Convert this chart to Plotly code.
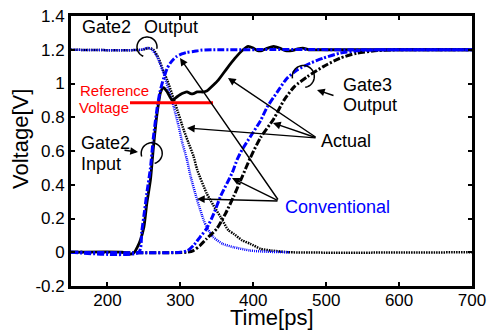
import math
import plotly.graph_objects as go

# ---------------- data ----------------
# Gate2 input, actual (black solid)
t_in_act = [150, 220, 228, 233, 237, 241, 245, 250, 254, 259, 263, 268, 273, 277, 282, 289, 295, 300,
            305, 309, 314, 318, 323, 327, 332, 336, 345, 352, 364, 375, 386, 393, 400, 406, 412, 420,
            428, 436, 444, 453, 461, 468, 476, 490, 700]
v_in_act = [0, 0, -0.01, -0.01, 0.0, 0.03, 0.07, 0.15, 0.29, 0.43, 0.62, 0.82, 0.95, 0.975, 0.95, 0.90,
            0.92, 0.935, 0.945, 0.95, 0.94, 0.94, 0.95, 0.95, 0.95, 0.955, 0.99, 1.02, 1.09, 1.15, 1.20,
            1.22, 1.21, 1.195, 1.195, 1.21, 1.22, 1.21, 1.195, 1.195, 1.205, 1.21, 1.20, 1.20, 1.20]

# Gate2 input, conventional (blue dash-dot)
t_in_conv = [150, 243, 247, 251, 254, 259, 263, 268, 272, 277, 282, 286, 291, 295, 302, 309, 318, 330, 345, 700]
v_in_conv = [0, 0, 0.12, 0.25, 0.35, 0.50, 0.68, 0.85, 0.95, 1.03, 1.09, 1.12, 1.145, 1.16, 1.175, 1.185,
             1.19, 1.198, 1.2, 1.2]

# Gate2 output, conventional (blue dotted)
t_out2_conv = [150, 246, 254, 260, 268, 277, 284, 291, 298, 302, 309, 314, 323, 332, 336, 345, 358, 373,
               396, 420, 450]
v_out2_conv = [1.2, 1.2, 1.21, 1.205, 1.16, 1.06, 0.96, 0.86, 0.74, 0.66, 0.55, 0.45, 0.31, 0.19, 0.15,
               0.09, 0.05, 0.03, 0.01, 0.003, 0]

# Gate2 output, actual (black dotted)
t_out2_act = [150, 248, 256, 263, 270, 277, 282, 293, 305, 311, 318, 323, 336, 345, 355, 366, 373, 385,
              396, 410, 425, 450, 700]
v_out2_act = [1.2, 1.2, 1.21, 1.2, 1.15, 1.07, 1.02, 0.88, 0.72, 0.65, 0.57, 0.49, 0.35, 0.28, 0.21, 0.13,
              0.11, 0.07, 0.05, 0.02, 0.01, 0, 0]

# Gate3 output, conventional (blue dash-dot)
t_out3_conv = [150, 300, 310, 318, 327, 336, 346, 355, 371, 378, 385, 396, 410, 419, 433, 446, 460, 478,
               496, 519, 545, 580, 700]
v_out3_conv = [0, 0, 0.01, 0.04, 0.09, 0.14, 0.23, 0.33, 0.47, 0.55, 0.61, 0.685, 0.78, 0.86, 0.95, 1.03,
               1.08, 1.12, 1.15, 1.18, 1.195, 1.2, 1.2]

# Gate3 output, actual (black dash-dot)
t_out3_act = [150, 309, 318, 327, 336, 350, 362, 373, 385, 396, 410, 428, 442, 456, 474, 496, 519, 542,
              570, 600, 700]
v_out3_act = [0, 0, 0.01, 0.04, 0.08, 0.14, 0.23, 0.33, 0.45, 0.56, 0.68, 0.79, 0.90, 0.98, 1.04, 1.10,
              1.15, 1.18, 1.195, 1.2, 1.2]

ref_voltage = 0.886

x_ticks = [200, 300, 400, 500, 600, 700]
x_tick_text = ["200", "300", "400", "500", "600", "700"]
y_ticks = [-0.2, 0, 0.2, 0.4, 0.6, 0.8, 1.0, 1.2, 1.4]
y_tick_text = ["-0.2", "0", "0.2", "0.4", "0.6", "0.8", "1", "1.2", "1.4"]

# ---------------- layout geometry ----------------
W, H = 487, 330
L, R, T, B = 71, 15, 16, 44
X0, X1 = 150, 700
Y0, Y1 = -0.2, 1.4
FONT = "Liberation Sans, Arial, Helvetica, sans-serif"


def px_x(px):
    return X0 + (px - L) / (W - L - R) * (X1 - X0)


def px_y(py):
    return Y1 - (py - T) / (H - T - B) * (Y1 - Y0)


def arc_path(cx, cy, r, a0, a1, n=40):
    pts = []
    for i in range(n + 1):
        a = math.radians(a0 + (a1 - a0) * i / n)
        pts.append((px_x(cx + r * math.cos(a)), px_y(cy - r * math.sin(a))))
    return "M" + " L".join(f"{x:.3f},{y:.5f}" for x, y in pts)


fig = go.Figure()

DASHDOT = "7px,2px,2px,2px"
DOT_BLACK = "1.5px,1px"
DOT_BLUE = "1px,1px"

fig.add_trace(go.Scatter(x=t_out2_act, y=v_out2_act, mode="lines", line=dict(color="black", width=2.5, dash=DOT_BLACK, shape="spline", smoothing=0.6)))
fig.add_trace(go.Scatter(x=t_out2_conv, y=v_out2_conv, mode="lines", line=dict(color="blue", width=2.5, dash=DOT_BLUE, shape="spline", smoothing=0.6)))
fig.add_trace(go.Scatter(x=t_in_act, y=v_in_act, mode="lines", line=dict(color="black", width=2.8, shape="spline", smoothing=0.6)))
fig.add_trace(go.Scatter(x=t_out3_act, y=v_out3_act, mode="lines", line=dict(color="black", width=3, dash=DASHDOT, shape="spline", smoothing=0.6)))
fig.add_trace(go.Scatter(x=t_out3_conv, y=v_out3_conv, mode="lines", line=dict(color="blue", width=3, dash=DASHDOT, shape="spline", smoothing=0.6)))
fig.add_trace(go.Scatter(x=t_in_conv, y=v_in_conv, mode="lines", line=dict(color="blue", width=3, dash=DASHDOT, shape="spline", smoothing=0.6)))

shapes = [
    dict(type="line", xref="x", yref="y", x0=px_x(130), x1=px_x(213), y0=ref_voltage, y1=ref_voltage,
         line=dict(color="red", width=3)),
    dict(type="path", xref="x", yref="y", path=arc_path(147, 47, 10, 248, -10), line=dict(color="black", width=1.5)),
    dict(type="path", xref="x", yref="y", path=arc_path(151.7, 153.3, 10.5, 198, -74), line=dict(color="black", width=1.5)),
    dict(type="path", xref="x", yref="y", path=arc_path(303.3, 76.5, 11, 190, -80), line=dict(color="black", width=1.5)),
]

annotations = []


def label(text, cx, cy, color="black", size=18):
    annotations.append(dict(text=text, x=px_x(cx), y=px_y(cy), xref="x", yref="y", showarrow=False,
                            xanchor="center", yanchor="middle", font=dict(family=FONT, size=size, color=color)))


def arrow(tail, tip):
    annotations.append(dict(text="", x=px_x(tip[0]), y=px_y(tip[1]), ax=px_x(tail[0]), ay=px_y(tail[1]),
                            xref="x", yref="y", axref="x", ayref="y", showarrow=True, arrowhead=2,
                            arrowsize=1.1, arrowwidth=1.4, arrowcolor="black", standoff=0, startstandoff=0))


label("Gate2", 106, 27)
label("Output", 171, 27)
label("Reference", 114.5, 90, color="red", size=15)
label("Voltage", 104, 107, color="red", size=15)
label("Gate2", 105, 142.5)
label("Input", 100.5, 164)
label("Gate3", 367.5, 84.5)
label("Output", 370, 105)
label("Actual", 346, 141)
label("Conventional", 337.5, 207, color="blue")

act = (317, 138)
for tip in [(228, 78), (273, 123), (187, 128)]:
    arrow(act, tip)
conv = (279, 201)
for tip in [(180, 58), (232, 178), (197, 199)]:
    arrow(conv, tip)
arrow((335, 96), (317, 90))
arrow((123, 150), (138, 152))

# axis titles
annotations.append(dict(text="Time[ps]", xref="paper", yref="paper", x=0.5, y=0, yshift=-(317 - (H - B)),
                        xanchor="center", yanchor="middle", showarrow=False,
                        font=dict(family=FONT, size=22, color="black")))
annotations.append(dict(text="Voltage[V]", xref="paper", yref="paper", x=0, xshift=20 - L,
                        y=(H - B - 139) / (H - T - B), xanchor="center", yanchor="middle", textangle=-90,
                        showarrow=False, font=dict(family=FONT, size=22, color="black")))

axis_common = dict(showline=True, linecolor="black", linewidth=2.8, mirror="allticks", ticks="inside",
                   ticklen=4, tickwidth=2, tickcolor="black", showgrid=False, zeroline=False,
                   tickfont=dict(family=FONT, size=17, color="black"), ticklabeloverflow="allow")

fig.update_layout(
    width=W, height=H,
    margin=dict(l=L, r=R, t=T, b=B, autoexpand=False),
    paper_bgcolor="white", plot_bgcolor="white",
    showlegend=False,
    xaxis=dict(range=[X0 - 0.001, X1 + 0.001], tickvals=x_ticks, ticktext=x_tick_text,
               ticklabelstandoff=-3, **axis_common),
    yaxis=dict(range=[Y0, Y1], tickvals=y_ticks, ticktext=y_tick_text, **axis_common),
    shapes=shapes,
    annotations=annotations,
)

fig.write_html("out.html")
